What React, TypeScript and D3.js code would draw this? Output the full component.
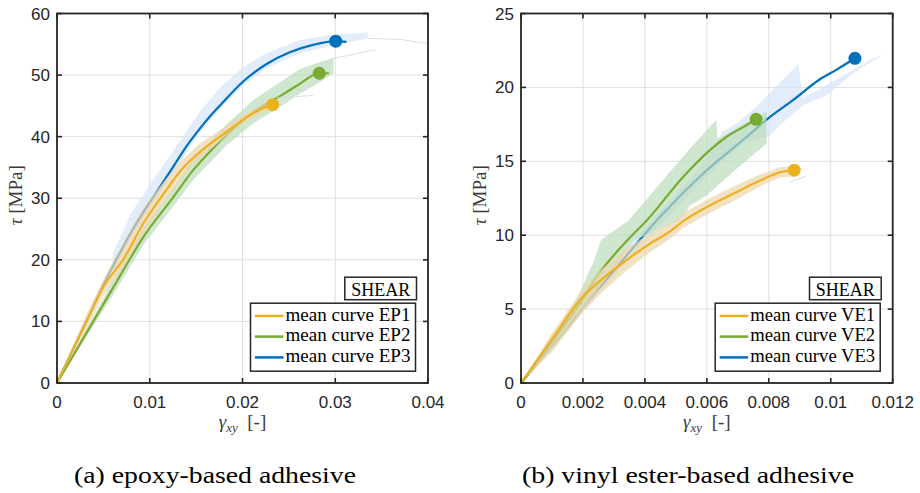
import React from 'react';
import * as d3 from 'd3';

// ---------------- Panel (a): epoxy-based adhesive ----------------
const epXTicks = [0, 0.01, 0.02, 0.03, 0.04];
const epYTicks = [0, 10, 20, 30, 40, 50, 60];
const epLabels = ['mean curve EP1', 'mean curve EP2', 'mean curve EP3'];

const ep1X = [0, 0.003, 0.005, 0.0072, 0.0093, 0.0113, 0.0134, 0.0154, 0.0183, 0.0208, 0.0222, 0.02325];
const ep1Y = [0, 9.4, 15.6, 20.2, 25.9, 30.3, 34.6, 37.5, 40.8, 43.5, 44.6, 45.2];
const ep2X = [0, 0.0061, 0.0093, 0.0125, 0.0147, 0.0165, 0.0183, 0.0212, 0.0244, 0.0262, 0.02828, 0.0293];
const ep2Y = [0, 15.6, 23.7, 30.1, 34.6, 37.6, 40.3, 44.0, 46.9, 48.6, 50.3, 50.3];
const ep3X = [0, 0.003, 0.005, 0.0072, 0.0082, 0.0093, 0.0103, 0.0124, 0.0139, 0.0154, 0.0165, 0.0176, 0.0201, 0.0226, 0.0251, 0.0276, 0.03005, 0.0312];
const ep3Y = [0, 9.5, 15.9, 22.3, 25.0, 27.7, 30.0, 34.8, 38.3, 41.3, 43.3, 45.1, 49.0, 51.8, 53.7, 54.9, 55.5, 55.4];

const ep1BandX = [0, 0.003, 0.005, 0.0072, 0.0082, 0.0093, 0.0103, 0.0113, 0.0134, 0.0154, 0.0183, 0.0208, 0.0225, 0.0236];
const ep1BandUpper = [0, 10.6, 16.9, 22.9, 25.6, 28.4, 30.4, 32.3, 36.1, 38.9, 41.8, 44.2, 45.5, 46.1];
const ep1BandLower = [0, 8.2, 14.2, 18.8, 21.3, 24.4, 26.5, 28.8, 33.2, 36.5, 40.1, 42.9, 44.1, 44.6];
const ep2BandX = [0, 0.0061, 0.0093, 0.0125, 0.0147, 0.0183, 0.0212, 0.0244, 0.0262, 0.0283, 0.0298];
const ep2BandUpper = [0, 16.8, 25.2, 31.6, 36.4, 42.0, 46.0, 49.2, 51.0, 52.1, 52.8];
const ep2BandLower = [0, 14.4, 22.4, 28.6, 33.0, 38.6, 42.2, 45.2, 47.0, 48.8, 50.3];
const ep3BandX = [0.006, 0.008, 0.01, 0.0124, 0.0154, 0.0176, 0.0201, 0.0226, 0.0262, 0.03, 0.0335];
const ep3BandUpper = [21.0, 27.6, 32.2, 37.4, 44.1, 48.0, 51.3, 53.6, 55.7, 56.6, 56.9];
const ep3BandLower = [17.5, 23.6, 28.4, 33.8, 40.7, 44.5, 48.3, 51.1, 53.6, 54.9, 55.95];

const epTail1X = [0.0336, 0.037, 0.04];
const epTail1Y = [55.95, 55.8, 55.1];
const epTail2X = [0.0298, 0.0343];
const epTail2Y = [52.7, 54.1];
const epTail3X = [0.0237, 0.0276];
const epTail3Y = [46.3, 46.7];

const epMarkerX = [0.02325, 0.02828, 0.03005];
const epMarkerY = [45.2, 50.3, 55.5];

// ---------------- Panel (b): vinyl ester-based adhesive ----------------
const veXTicks = [0, 0.002, 0.004, 0.006, 0.008, 0.01, 0.012];
const veYTicks = [0, 5, 10, 15, 20, 25];
const veLabels = ['mean curve VE1', 'mean curve VE2', 'mean curve VE3'];

const ve1X = [0, 0.001, 0.002, 0.0026, 0.0034, 0.004, 0.0049, 0.00524, 0.006, 0.00685, 0.00772, 0.00836, 0.00882];
const ve1Y = [0, 2.95, 5.85, 7.0, 8.3, 9.2, 10.4, 10.95, 11.9, 12.8, 13.7, 14.25, 14.4];
const ve2X = [0, 0.001, 0.002, 0.0023, 0.00344, 0.00406, 0.00524, 0.0061, 0.00664, 0.00729, 0.00759];
const ve2Y = [0, 2.8, 5.7, 6.75, 9.67, 11.0, 13.96, 15.76, 16.66, 17.46, 17.84];
const ve3X = [0, 0.001, 0.0016, 0.002, 0.003, 0.00449, 0.00589, 0.00729, 0.00798, 0.00879, 0.00965, 0.01019, 0.01078];
const ve3Y = [0, 2.5, 4.0, 5.1, 7.6, 11.25, 14.19, 16.66, 17.9, 19.15, 20.55, 21.2, 21.97];

const ve1BandX = [0, 0.001, 0.002, 0.0026, 0.0034, 0.004, 0.0049, 0.00524, 0.006, 0.00685, 0.00772, 0.00836, 0.0089];
const ve1BandUpper = [0, 3.4, 6.4, 7.7, 9.1, 9.9, 10.9, 11.5, 12.4, 13.3, 14.1, 14.6, 14.7];
const ve1BandLower = [0, 2.1, 4.8, 6.1, 7.6, 8.6, 9.9, 10.5, 11.4, 12.3, 13.3, 13.9, 14.0];

const ve2BandUpperX = [0, 0.001, 0.0017, 0.002, 0.0022, 0.00233, 0.00258, 0.00347, 0.00449, 0.00556, 0.0063, 0.00635, 0.007, 0.00793];
const ve2BandUpperY = [0, 3.2, 5.3, 6.6, 7.6, 8.1, 9.67, 11.0, 13.5, 16.1, 17.8, 16.5, 17.3, 18.35];
const ve2BandLowerX = [0, 0.001, 0.0016, 0.00248, 0.0028, 0.00365, 0.00406, 0.00513, 0.00546, 0.006, 0.00685, 0.00793];
const ve2BandLowerY = [0, 2.3, 3.8, 6.3, 7.2, 9.67, 10.0, 11.0, 12.0, 12.7, 14.3, 16.2];

const ve3BandUpperX = [0, 0.002, 0.004, 0.0058, 0.0063, 0.0065, 0.007, 0.0077, 0.0083, 0.00895, 0.0091, 0.0094, 0.0104, 0.0113, 0.01164];
const ve3BandUpperY = [0, 5.6, 10.5, 14.6, 16.2, 17.0, 17.6, 18.9, 20.2, 21.6, 19.3, 19.6, 20.8, 21.9, 22.2];
const ve3BandLowerX = [0, 0.002, 0.004, 0.0058, 0.0072, 0.008, 0.0086, 0.0091, 0.0099, 0.0107, 0.01164];
const ve3BandLowerY = [0, 4.8, 9.6, 13.6, 16.3, 16.7, 17.9, 18.8, 19.5, 20.9, 22.15];

const veTail1X = [0.00868, 0.00917];
const veTail1Y = [13.6, 13.96];

const veMarkerX = [0.00882, 0.00759, 0.01078];
const veMarkerY = [14.4, 17.84, 21.97];

// ---------------- styling ----------------
const COLORS = ['#EDB120', '#77AC30', '#0072BD'];
const BAND_FILLS = ['#ecd5ab', '#bbdbbb', '#d7e4f8'];
const BAND_OPACITY = 0.7;
const AX = '#262626';
const GRID = '#dfdfdf';
const TAIL = '#dcdcdc';
const SANS = '"Liberation Sans", Arial, Helvetica, sans-serif';
const SERIF = '"Liberation Serif", "Times New Roman", serif';

type XY = [number, number];
const zip = (xs: number[], ys: number[]): XY[] => xs.map((v, i) => [v, ys[i]]);

interface Box { x0: number; x1: number; y0: number; y1: number; }
interface Band { ux: number[]; uy: number[]; lx: number[]; ly: number[]; }
interface Series { x: number[]; y: number[]; }

interface PanelProps {
  id: string;
  box: Box;
  xDomain: [number, number];
  yDomain: [number, number];
  xTicks: number[];
  yTicks: number[];
  series: Series[];
  bands: Band[];
  tails: Series[];
  markersX: number[];
  markersY: number[];
  labels: string[];
}

function Panel(p: PanelProps) {
  const { box } = p;
  const x = d3.scaleLinear().domain(p.xDomain).range([box.x0, box.x1]);
  const y = d3.scaleLinear().domain(p.yDomain).range([box.y1, box.y0]);
  const line = d3.line<XY>().x((d) => x(d[0])).y((d) => y(d[1]));
  const smooth = d3.line<XY>().x((d) => x(d[0])).y((d) => y(d[1])).curve(d3.curveMonotoneX);
  const bandPath = (b: Band) => {
    const up = zip(b.ux, b.uy);
    const lo = zip(b.lx, b.ly).reverse();
    return (line(up.concat(lo)) || '') + 'Z';
  };
  const tick = 5;
  const cx = (box.x0 + box.x1) / 2;
  const cy = (box.y0 + box.y1) / 2;

  const legRight = box.x1 - 12.5;
  const legBottom = box.y1 - 11.8;
  const legW = 165;
  const legH = 68;
  const legLeft = legRight - legW;
  const legTop = legBottom - legH;
  const rowY = [legTop + 12.7, legTop + 33.4, legTop + 54.2];
  const shearW = 71.7;
  const shearTop = legTop - 26;

  const order = [2, 1, 0];
  return (
    <g>
      <defs>
        <clipPath id={`clip-${p.id}`}>
          <rect x={box.x0} y={box.y0} width={box.x1 - box.x0} height={box.y1 - box.y0} />
        </clipPath>
      </defs>
      <rect x={box.x0} y={box.y0} width={box.x1 - box.x0} height={box.y1 - box.y0} fill="#fff" />
      {p.xTicks.map((t, i) => (
        <line key={`gx${i}`} x1={x(t)} x2={x(t)} y1={box.y0} y2={box.y1} stroke={GRID} strokeWidth={1} />
      ))}
      {p.yTicks.map((t, i) => (
        <line key={`gy${i}`} x1={box.x0} x2={box.x1} y1={y(t)} y2={y(t)} stroke={GRID} strokeWidth={1} />
      ))}
      <g clipPath={`url(#clip-${p.id})`}>
        {order.map((i) => (
          <g key={`s${i}`}>
            <path d={bandPath(p.bands[i])} fill={BAND_FILLS[i]} fillOpacity={BAND_OPACITY} stroke="none" />
            <path d={smooth(zip(p.series[i].x, p.series[i].y)) || ''} fill="none" stroke={COLORS[i]} strokeWidth={2.2} strokeLinejoin="round" />
          </g>
        ))}
        {p.tails.map((t, i) => (
          <path key={`t${i}`} d={line(zip(t.x, t.y)) || ''} fill="none" stroke={TAIL} strokeWidth={1} />
        ))}
        {p.markersX.map((mx, i) => (
          <circle key={`m${i}`} cx={x(mx)} cy={y(p.markersY[i])} r={6.5} fill={COLORS[i]} />
        ))}
      </g>
      {p.xTicks.map((t, i) => (
        <g key={`tx${i}`}>
          <line x1={x(t)} x2={x(t)} y1={box.y1} y2={box.y1 - tick} stroke={AX} strokeWidth={1.6} />
          <line x1={x(t)} x2={x(t)} y1={box.y0} y2={box.y0 + tick} stroke={AX} strokeWidth={1.6} />
          <text x={x(t)} y={box.y1 + 25} textAnchor="middle" fontFamily={SANS} fontSize={17} fill={AX}>
            {String(t)}
          </text>
        </g>
      ))}
      {p.yTicks.map((t, i) => (
        <g key={`ty${i}`}>
          <line x1={box.x0} x2={box.x0 + tick} y1={y(t)} y2={y(t)} stroke={AX} strokeWidth={1.6} />
          <line x1={box.x1} x2={box.x1 - tick} y1={y(t)} y2={y(t)} stroke={AX} strokeWidth={1.6} />
          <text x={box.x0 - 7} y={y(t) + 6} textAnchor="end" fontFamily={SANS} fontSize={17} fill={AX}>
            {String(t)}
          </text>
        </g>
      ))}
      <rect x={box.x0} y={box.y0} width={box.x1 - box.x0} height={box.y1 - box.y0} fill="none" stroke={AX} strokeWidth={1.8} />
      <text x={cx} y={box.y1 + 45} textAnchor="middle" fontFamily={SERIF} fontSize={19} fill="#3a3a3a">
        <tspan fontStyle="italic">γ</tspan>
        <tspan fontStyle="italic" fontSize={13} dy={4}>xy</tspan>
        <tspan dy={-4}>{'\u2002[-]'}</tspan>
      </text>
      <text
        transform={`translate(${box.x0 - 35},${cy - 3}) rotate(-90)`}
        textAnchor="middle"
        fontFamily={SERIF}
        fontSize={19}
        fill="#3a3a3a"
      >
        <tspan fontStyle="italic">τ</tspan>
        <tspan>{' [MPa]'}</tspan>
      </text>
      <rect x={legRight + 1 - shearW} y={shearTop} width={shearW} height={22.5} fill="#fff" stroke={AX} strokeWidth={1.5} />
      <text x={legRight + 1 - shearW / 2} y={shearTop + 18.5} textAnchor="middle" fontFamily={SERIF} fontSize={18} textLength={59} lengthAdjust="spacingAndGlyphs" fill="#000">
        SHEAR
      </text>
      <rect x={legLeft} y={legTop} width={legW} height={legH} fill="#fff" stroke={AX} strokeWidth={1.5} />
      {p.labels.map((lab, i) => (
        <g key={`l${i}`}>
          <line x1={legLeft + 4.5} x2={legLeft + 33} y1={rowY[i]} y2={rowY[i]} stroke={COLORS[i]} strokeWidth={2.5} />
          <text x={legLeft + 35} y={rowY[i] + 4.8} fontFamily={SERIF} fontSize={18} textLength={125} lengthAdjust="spacingAndGlyphs" fill="#000">
            {lab}
          </text>
        </g>
      ))}
    </g>
  );
}

export default function App() {
  const epSeries: Series[] = [
    { x: ep1X, y: ep1Y },
    { x: ep2X, y: ep2Y },
    { x: ep3X, y: ep3Y },
  ];
  const epBands: Band[] = [
    { ux: ep1BandX, uy: ep1BandUpper, lx: ep1BandX, ly: ep1BandLower },
    { ux: ep2BandX, uy: ep2BandUpper, lx: ep2BandX, ly: ep2BandLower },
    { ux: ep3BandX, uy: ep3BandUpper, lx: ep3BandX, ly: ep3BandLower },
  ];
  const epTails: Series[] = [
    { x: epTail1X, y: epTail1Y },
    { x: epTail2X, y: epTail2Y },
    { x: epTail3X, y: epTail3Y },
  ];
  const veSeries: Series[] = [
    { x: ve1X, y: ve1Y },
    { x: ve2X, y: ve2Y },
    { x: ve3X, y: ve3Y },
  ];
  const veBands: Band[] = [
    { ux: ve1BandX, uy: ve1BandUpper, lx: ve1BandX, ly: ve1BandLower },
    { ux: ve2BandUpperX, uy: ve2BandUpperY, lx: ve2BandLowerX, ly: ve2BandLowerY },
    { ux: ve3BandUpperX, uy: ve3BandUpperY, lx: ve3BandLowerX, ly: ve3BandLowerY },
  ];
  const veTails: Series[] = [{ x: veTail1X, y: veTail1Y }];

  return (
    <div style={{ position: 'absolute', left: 0, top: 0 }}>
      <svg width={920} height={493} viewBox="0 0 920 493" style={{ display: 'block', background: '#fff' }}>
        <rect x={0} y={0} width={920} height={493} fill="#fff" />
        <Panel
          id="a"
          box={{ x0: 57, x1: 428, y0: 13.5, y1: 383 }}
          xDomain={[0, 0.04]}
          yDomain={[0, 60]}
          xTicks={epXTicks}
          yTicks={epYTicks}
          series={epSeries}
          bands={epBands}
          tails={epTails}
          markersX={epMarkerX}
          markersY={epMarkerY}
          labels={epLabels}
        />
        <Panel
          id="b"
          box={{ x0: 521, x1: 892.7, y0: 13.5, y1: 383 }}
          xDomain={[0, 0.012]}
          yDomain={[0, 25]}
          xTicks={veXTicks}
          yTicks={veYTicks}
          series={veSeries}
          bands={veBands}
          tails={veTails}
          markersX={veMarkerX}
          markersY={veMarkerY}
          labels={veLabels}
        />
        <text x={215} y={483} textAnchor="middle" fontFamily={SERIF} fontSize={22.5} textLength={282} lengthAdjust="spacingAndGlyphs" fill="#000">
          (a) epoxy-based adhesive
        </text>
        <text x={688} y={483} textAnchor="middle" fontFamily={SERIF} fontSize={22.5} textLength={332} lengthAdjust="spacingAndGlyphs" fill="#000">
          (b) vinyl ester-based adhesive
        </text>
      </svg>
    </div>
  );
}
